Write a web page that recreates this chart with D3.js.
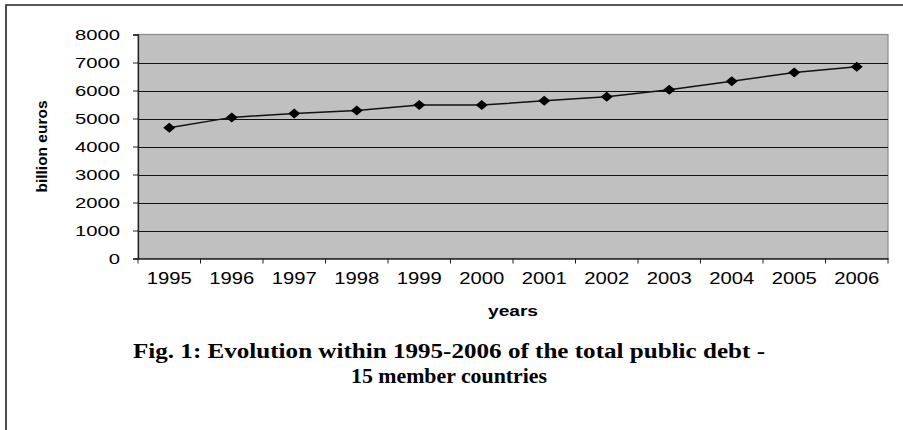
<!DOCTYPE html>
<html>
<head>
<meta charset="utf-8">
<script src="https://cdn.jsdelivr.net/npm/d3@7"></script>
<style>
  html, body { margin: 0; padding: 0; background: #fff; }
  svg { display: block; }
</style>
</head>
<body>
<script>
// Total public debt of the 15 member countries, billion euros
const years = ["1995", "1996", "1997", "1998", "1999", "2000", "2001", "2002", "2003", "2004", "2005", "2006"];
const debt = [4670, 5040, 5180, 5290, 5480, 5480, 5630, 5780, 6030, 6330, 6640, 6850];
const yTicks = [0, 1000, 2000, 3000, 4000, 5000, 6000, 7000, 8000];
const yAxisTitle = "billion euros";
const xAxisTitle = "years";
const captionLines = ["Fig. 1: Evolution within 1995-2006 of the total public debt -", "15 member countries"];

const W = 903, H = 430;
const plot = { left: 138, top: 34.5, right: 888, bottom: 258.5 };

const svg = d3.select("body").append("svg")
  .attr("width", W).attr("height", H);

svg.append("rect").attr("width", W).attr("height", H).attr("fill", "#fff");

// outer frame (top and left edges)
svg.append("path")
  .attr("d", `M6,${H} L6,5 L${W},5`)
  .attr("fill", "none").attr("stroke", "#222").attr("stroke-width", 1.6);

const x = d3.scaleBand().domain(years).range([plot.left, plot.right]);
const y = d3.scaleLinear().domain([0, 8000]).range([plot.bottom, plot.top]);

// plot area
svg.append("rect")
  .attr("x", plot.left).attr("y", plot.top)
  .attr("width", plot.right - plot.left).attr("height", plot.bottom - plot.top)
  .attr("fill", "#c0c0c0").attr("stroke", "#8a8a8a").attr("stroke-width", 1.2);

// horizontal gridlines
svg.append("g").selectAll("line")
  .data(yTicks.filter(v => v > 0 && v < 8000))
  .join("line")
  .attr("x1", plot.left).attr("x2", plot.right)
  .attr("y1", d => Math.round(y(d)) + 0.5).attr("y2", d => Math.round(y(d)) + 0.5)
  .attr("stroke", "#111").attr("stroke-width", 1);

// y axis
const yAxis = svg.append("g")
  .attr("transform", `translate(${plot.left},0)`)
  .call(d3.axisLeft(y).tickValues(yTicks).tickSize(5).tickPadding(13).tickFormat(d3.format("d")));
yAxis.select(".domain").attr("stroke", "#222").attr("stroke-width", 1.3);
yAxis.selectAll(".tick line").attr("stroke", "#222");
yAxis.selectAll(".tick text")
  .attr("font-family", "'Liberation Sans', Arial, sans-serif")
  .attr("font-size", 15).attr("fill", "#000")
  .attr("textLength", d => String(d).length * 11.25)
  .attr("lengthAdjust", "spacingAndGlyphs");

// x axis
const xAxis = svg.append("g")
  .attr("transform", `translate(0,${plot.bottom})`)
  .call(d3.axisBottom(x).tickSize(0).tickPadding(14));
xAxis.select(".domain").attr("stroke", "#222").attr("stroke-width", 1.3);
xAxis.selectAll(".tick text")
  .attr("font-family", "'Liberation Sans', Arial, sans-serif")
  .attr("font-size", 16).attr("fill", "#000")
  .attr("textLength", 45).attr("lengthAdjust", "spacingAndGlyphs");

// tick marks between categories
const boundaries = years.map(d => x(d)).concat([x(years[years.length - 1]) + x.bandwidth()]);
svg.append("g").selectAll("line")
  .data(boundaries)
  .join("line")
  .attr("x1", d => d).attr("x2", d => d)
  .attr("y1", plot.bottom).attr("y2", plot.bottom + 5)
  .attr("stroke", "#222").attr("stroke-width", 1);

// series line
const cx = d => x(d) + x.bandwidth() / 2;
const line = d3.line()
  .x((d, i) => cx(years[i]))
  .y(d => y(d));
svg.append("path")
  .datum(debt)
  .attr("d", line)
  .attr("fill", "none").attr("stroke", "#111").attr("stroke-width", 1.5);

// diamond markers
const wideDiamond = {
  draw(context, size) {
    const w = Math.sqrt(size) * 0.6, h = Math.sqrt(size) * 0.5;
    context.moveTo(0, -h);
    context.lineTo(w, 0);
    context.lineTo(0, h);
    context.lineTo(-w, 0);
    context.closePath();
  }
};
svg.append("g").selectAll("path")
  .data(debt)
  .join("path")
  .attr("transform", (d, i) => `translate(${cx(years[i])},${y(d)})`)
  .attr("d", d3.symbol().type(wideDiamond).size(100))
  .attr("fill", "#000");

// axis titles
svg.append("text")
  .attr("transform", `translate(47,${(plot.top + plot.bottom) / 2}) rotate(-90)`)
  .attr("text-anchor", "middle")
  .attr("font-family", "'Liberation Sans', Arial, sans-serif")
  .attr("font-weight", "bold").attr("font-size", 15)
  .attr("textLength", 92).attr("lengthAdjust", "spacingAndGlyphs")
  .text(yAxisTitle);

svg.append("text")
  .attr("x", (plot.left + plot.right) / 2).attr("y", 316)
  .attr("text-anchor", "middle")
  .attr("font-family", "'Liberation Sans', Arial, sans-serif")
  .attr("font-weight", "bold").attr("font-size", 14)
  .attr("textLength", 50).attr("lengthAdjust", "spacingAndGlyphs")
  .text(xAxisTitle);

// figure caption
svg.append("g").selectAll("text")
  .data(captionLines)
  .join("text")
  .attr("x", 449)
  .attr("y", (d, i) => 358 + i * 25)
  .attr("text-anchor", "middle")
  .attr("font-family", "'Liberation Serif', 'Times New Roman', serif")
  .attr("font-weight", "bold").attr("font-size", 20)
  .attr("textLength", (d, i) => i === 0 ? 632 : 196)
  .attr("lengthAdjust", "spacingAndGlyphs")
  .text(d => d);
</script>
</body>
</html>
